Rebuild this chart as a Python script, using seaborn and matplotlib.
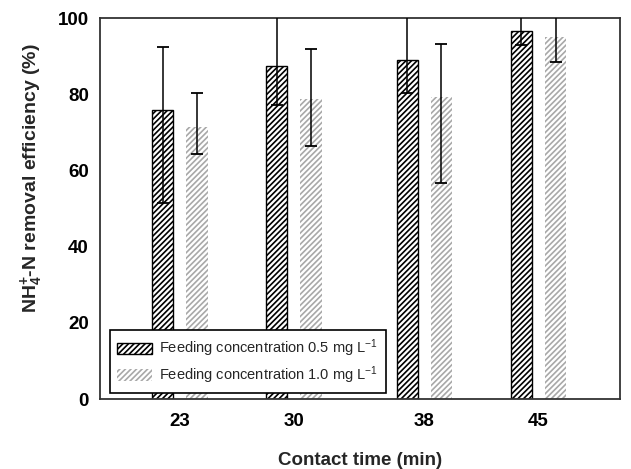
import numpy as np
import pandas as pd
import seaborn as sns
import matplotlib.pyplot as plt

# values
times = [23, 30, 38, 45]
eff_05 = [75.9, 87.5, 89.1, 96.7]
eff_10 = [71.4, 78.7, 79.3, 94.9]
err_05_low = [24.5, 10.2, 8.7, 3.7]
err_05_high = [16.6, 14.0, 13.0, 5.0]
err_10_low = [7.0, 12.2, 22.5, 6.4]
err_10_high = [8.8, 13.2, 14.0, 7.0]
labels = ['Feeding concentration 0.5 mg L$^{-1}$',
          'Feeding concentration 1.0 mg L$^{-1}$']

df = pd.DataFrame({
    'time': times * 2,
    'eff': eff_05 + eff_10,
    'conc': [labels[0]] * 4 + [labels[1]] * 4,
})

sns.set_style('white')
plt.rcParams['font.family'] = ['Liberation Sans', 'DejaVu Sans']
plt.rcParams['mathtext.fontset'] = 'custom'
plt.rcParams['mathtext.rm'] = 'Liberation Sans'
plt.rcParams['mathtext.bf'] = 'Liberation Sans:bold'
plt.rcParams['mathtext.default'] = 'regular'
plt.rcParams['hatch.linewidth'] = 1.2

fig = plt.figure(figsize=(6.31, 4.69), dpi=100)
ax = fig.add_axes([0.1585, 0.149, 0.824, 0.8126])

sns.barplot(data=df, x='time', y='eff', hue='conc', native_scale=True,
            width=0.6, gap=0.38, errorbar=None, ax=ax, legend=False)

dark, light = ax.containers[0], ax.containers[1]
for p in dark:
    p.set_facecolor('white')
    p.set_edgecolor('black')
    p.set_hatch('//////')
    p.set_linewidth(1.0)
for p in light:
    p.set_facecolor('white')
    p.set_edgecolor('#a8a8a8')
    p.set_hatch('//////')
    p.set_linewidth(0)

# error bars at bar centres
for cont, vals, lo, hi in [(dark, eff_05, err_05_low, err_05_high),
                           (light, eff_10, err_10_low, err_10_high)]:
    xs = [p.get_x() + p.get_width() / 2 for p in cont]
    ax.errorbar(xs, vals, yerr=[lo, hi], fmt='none', ecolor='black',
                elinewidth=1.1, capsize=4.5, capthick=1.3, zorder=5)

ax.set_xlim(18.1, 50)
ax.set_ylim(0, 100)
ax.set_xticks(times)
ax.set_xticklabels([str(t) for t in times])
ax.set_yticks([0, 20, 40, 60, 80, 100])
ax.tick_params(axis='both', direction='in', length=4, width=1,
               labelsize=13.5, pad=8, colors='black')
ax.tick_params(axis='x', pad=10)
for lab in ax.get_xticklabels() + ax.get_yticklabels():
    lab.set_fontweight('bold')

for s in ax.spines.values():
    s.set_color('#333333')
    s.set_linewidth(1.3)

ax.set_xlabel('Contact time (min)', fontsize=13.5, fontweight='bold', labelpad=16)
ax.set_ylabel('NH$_\\mathbf{4}^\\mathbf{+}$-N removal efficiency (%)',
              fontsize=14, fontweight='bold')
ax.yaxis.set_label_coords(-0.105, 0.58)

leg = ax.legend(handles=[dark, light], labels=labels, loc='lower left',
                bbox_to_anchor=(0.005, -0.004), fontsize=10.5, frameon=True,
                fancybox=False, edgecolor='black', framealpha=1,
                handlelength=2.4, handleheight=0.8, borderpad=0.5,
                labelspacing=0.35, handletextpad=0.5)
leg.get_frame().set_linewidth(1.2)

fig.savefig('out.png', dpi=100)
